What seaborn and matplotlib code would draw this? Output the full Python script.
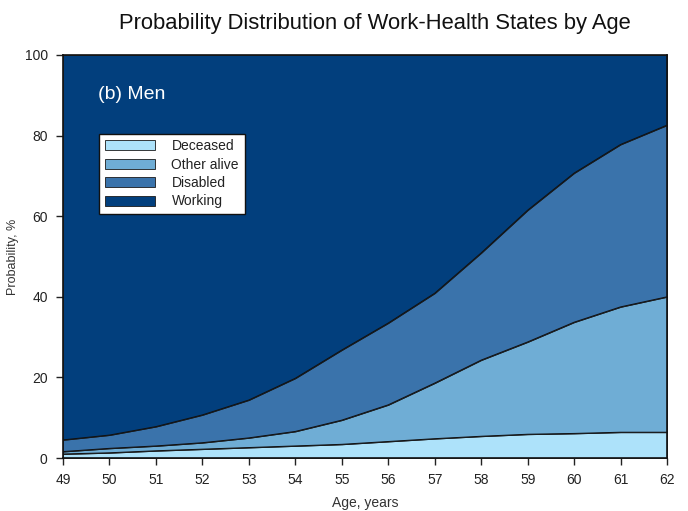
import numpy as np
import pandas as pd
import matplotlib
matplotlib.use("Agg")
import matplotlib.pyplot as plt
import seaborn as sns

# ages and cumulative boundaries (percent)
ages = [49, 50, 51, 52, 53, 54, 55, 56, 57, 58, 59, 60, 61, 62]
deceased = [1.0, 1.3, 1.8, 2.2, 2.6, 3.0, 3.4, 4.1, 4.8, 5.4, 5.9, 6.1, 6.4, 6.4]
upto_other = [1.6, 2.4, 3.0, 3.8, 5.0, 6.6, 9.4, 13.2, 18.6, 24.3, 28.8, 33.7, 37.5, 40.0]
upto_disabled = [4.5, 5.7, 7.8, 10.7, 14.4, 19.8, 26.8, 33.5, 40.9, 50.9, 61.5, 70.7, 77.8, 82.6]

labels = ["Deceased", "Other alive", "Disabled", "Working"]
colors = ["#ADE2FA", "#6FADD5", "#3A73AB", "#023F7D"]

df = pd.DataFrame({"age": ages, "deceased": deceased,
                   "other": upto_other, "disabled": upto_disabled})
df["working"] = 100.0

sns.set_style("ticks")
plt.rcParams["font.family"] = ["Liberation Sans", "DejaVu Sans"]

fig = plt.figure(figsize=(6.88, 5.11), dpi=100)
ax = fig.add_axes([0.0916, 0.1037, 0.8779, 0.7887])

layers = [df["deceased"],
          df["other"] - df["deceased"],
          df["disabled"] - df["other"],
          df["working"] - df["disabled"]]
ax.stackplot(df["age"], *layers, labels=labels, colors=colors,
             edgecolor="#1a1a1a", linewidth=0.6)

# thin dark boundary lines between bands
for col in ["deceased", "other", "disabled"]:
    sns.lineplot(x="age", y=col, data=df, ax=ax, color="#111111",
                 linewidth=0.7, legend=False)

ax.set_xlim(49, 62)
ax.set_ylim(0, 100)
ax.set_xticks(ages)
ax.set_yticks(range(0, 101, 20))
ax.tick_params(colors="#222222", labelsize=10, length=5, width=1,
               direction="out", pad=6)
for s in ax.spines.values():
    s.set_color("#111111")
    s.set_linewidth(1.2)

ax.set_xlabel("Age, years", fontsize=10, color="#333333", labelpad=6)
ax.set_ylabel("Probability, %", fontsize=9, color="#333333", labelpad=4)

fig.suptitle("Probability Distribution of Work-Health States by Age",
             fontsize=15.8, x=0.545, y=0.975, color="#111111")

ax.text(0.058, 0.903, "(b) Men", transform=ax.transAxes, color="white",
        fontsize=14, va="center")

leg = ax.legend(loc="upper left", bbox_to_anchor=(0.06, 0.805),
                frameon=True, fancybox=False, fontsize=10,
                handlelength=3.6, handleheight=0.75, handletextpad=1.2,
                labelspacing=0.32, borderpad=0.4, borderaxespad=0)
leg.get_frame().set_facecolor("white")
leg.get_frame().set_edgecolor("#111111")
leg.get_frame().set_alpha(1)
for t in leg.get_texts():
    t.set_color("#222222")

fig.savefig("out.png", dpi=100)
